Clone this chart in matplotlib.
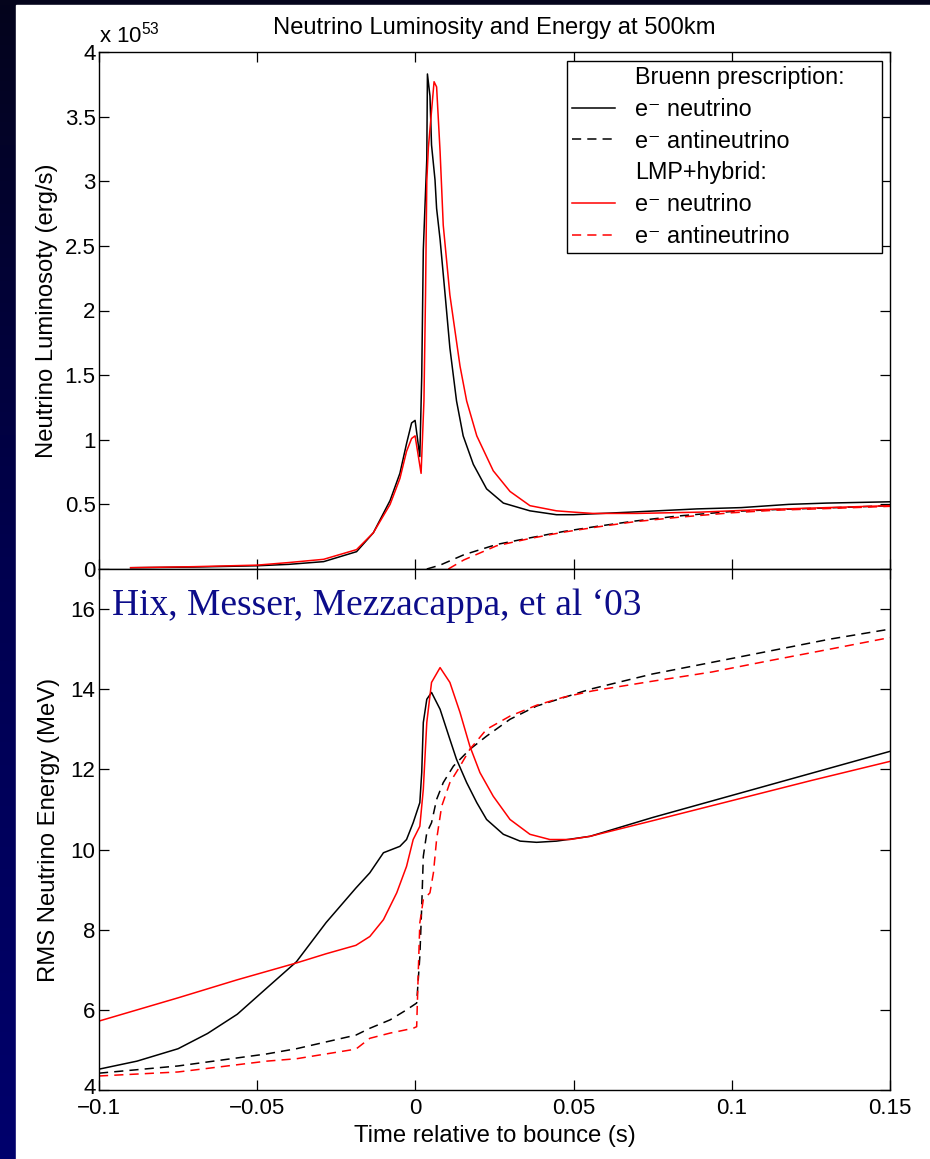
import numpy as np
import matplotlib
matplotlib.use("Agg")
import matplotlib.pyplot as plt
from matplotlib.lines import Line2D
from matplotlib.patches import Rectangle
from matplotlib.transforms import ScaledTranslation

# ---- data ----
# top panel: luminosity in units of 1e53 erg/s
lum_bn_t = [-0.09, -0.07, -0.05, -0.04, -0.029, -0.0186, -0.0133, -0.008, -0.0049, -0.0028,
            -0.0012, -0.0001, 0.0014, 0.0020, 0.0025, 0.0036, 0.0038, 0.0046, 0.0051, 0.0062,
            0.0067, 0.0078, 0.0094, 0.0109, 0.0130, 0.0151, 0.0183, 0.0225, 0.0278, 0.0362,
            0.0446, 0.05, 0.068, 0.089, 0.103, 0.118, 0.13, 0.15]
lum_bn_nue = [0.01, 0.015, 0.025, 0.036, 0.057, 0.134, 0.28, 0.53, 0.74, 0.97,
              1.13, 1.15, 0.87, 1.49, 2.47, 3.17, 3.83, 3.66, 3.28, 3.01,
              2.79, 2.55, 2.12, 1.71, 1.30, 1.03, 0.81, 0.62, 0.51, 0.45,
              0.42, 0.42, 0.44, 0.465, 0.475, 0.50, 0.51, 0.52]

lum_lmp_t = [-0.09, -0.07, -0.05, -0.04, -0.029, -0.0186, -0.0133, -0.008, -0.0049, -0.0028,
             -0.0012, -0.0001, 0.0018, 0.0027, 0.0032, 0.0036, 0.0041, 0.0059, 0.0067, 0.0078,
             0.0088, 0.0109, 0.0141, 0.0162, 0.0194, 0.0246, 0.0299, 0.0362, 0.0446, 0.05,
             0.056, 0.07, 0.09, 0.11, 0.13, 0.15]
lum_lmp_nue = [0.01, 0.018, 0.03, 0.05, 0.075, 0.15, 0.28, 0.50, 0.70, 0.91,
               1.01, 1.03, 0.74, 1.30, 2.12, 3.0, 3.26, 3.77, 3.73, 3.23,
               2.66, 2.12, 1.57, 1.30, 1.03, 0.76, 0.60, 0.49, 0.45, 0.44,
               0.43, 0.43, 0.44, 0.46, 0.475, 0.49]

lum_bn_anu_t = [0.0036, 0.0078, 0.0153, 0.0257, 0.036, 0.0468, 0.0574, 0.069, 0.083, 0.1,
                0.114, 0.133, 0.15]
lum_bn_anu = [0.0, 0.03, 0.11, 0.19, 0.24, 0.29, 0.33, 0.37, 0.41, 0.445,
              0.46, 0.475, 0.49]
lum_lmp_anu_t = [0.0104, 0.0153, 0.0257, 0.036, 0.0468, 0.0574, 0.069, 0.083, 0.1, 0.114,
                 0.133, 0.15]
lum_lmp_anu = [0.0, 0.07, 0.18, 0.235, 0.285, 0.325, 0.365, 0.40, 0.435, 0.455,
               0.47, 0.485]

# bottom panel: rms energy in MeV
e_bn_t = [-0.1, -0.088, -0.075, -0.0657, -0.0563, -0.0469, -0.0376, -0.0282, -0.0188, -0.0144,
          -0.0101, -0.0049, -0.0028, -0.0007, 0.0014, 0.002, 0.0025, 0.0036, 0.0051, 0.0078,
          0.0109, 0.013, 0.0162, 0.0194, 0.0225, 0.0278, 0.0331, 0.0383, 0.0446, 0.0552,
          0.075, 0.1, 0.125, 0.15]
e_bn_nue = [4.52, 4.72, 5.03, 5.41, 5.89, 6.55, 7.2, 8.18, 9.04, 9.42,
            9.92, 10.08, 10.25, 10.67, 11.17, 11.92, 13.17, 13.75, 13.92, 13.5,
            12.75, 12.25, 11.67, 11.17, 10.75, 10.38, 10.21, 10.18, 10.21, 10.33,
            10.8, 11.35, 11.9, 12.45]

e_lmp_t = [-0.1, -0.075, -0.0563, -0.0376, -0.0282, -0.0188, -0.0144, -0.0101, -0.0059, -0.0028,
           -0.0007, 0.0014, 0.0025, 0.0036, 0.0051, 0.0078, 0.0109, 0.0141, 0.0172, 0.0204,
           0.0246, 0.0299, 0.0362, 0.0425, 0.0488, 0.0552, 0.075, 0.1, 0.125, 0.15]
e_lmp_nue = [5.72, 6.3, 6.75, 7.17, 7.4, 7.61, 7.83, 8.25, 8.92, 9.58,
             10.25, 10.58, 11.5, 13.17, 14.17, 14.54, 14.17, 13.42, 12.58, 11.92,
             11.33, 10.75, 10.38, 10.25, 10.25, 10.33, 10.72, 11.22, 11.72, 12.2]

e_bn_anu_t = [-0.1, -0.075, -0.047, -0.0376, -0.0188, -0.0144, -0.008, -0.0028, 0.0004, 0.0014,
              0.002, 0.0025, 0.0036, 0.0051, 0.0067, 0.0088, 0.012, 0.0172, 0.0225, 0.0299,
              0.0383, 0.0468, 0.0552, 0.0749, 0.0937, 0.1124, 0.131, 0.15]
e_bn_anu = [4.42, 4.6, 4.9, 5.03, 5.37, 5.54, 5.75, 6.0, 6.17, 7.33,
            8.58, 9.83, 10.42, 10.67, 11.25, 11.67, 12.08, 12.5, 12.83, 13.25,
            13.58, 13.79, 14.0, 14.38, 14.67, 14.96, 15.25, 15.5]

e_lmp_anu_t = [-0.1, -0.075, -0.047, -0.0376, -0.0188, -0.0144, -0.008, -0.0007, 0.0004, 0.0009,
               0.0014, 0.0025, 0.0046, 0.0057, 0.0067, 0.0083, 0.0109, 0.0141, 0.0172, 0.0225,
               0.0299, 0.0383, 0.0468, 0.0561, 0.0749, 0.0937, 0.1124, 0.131, 0.15]
e_lmp_anu = [4.35, 4.45, 4.72, 4.78, 5.02, 5.29, 5.42, 5.54, 5.58, 6.92,
             8.17, 8.75, 8.92, 9.42, 10.25, 11.08, 11.67, 12.08, 12.5, 13.0,
             13.33, 13.6, 13.8, 13.96, 14.2, 14.43, 14.72, 15.0, 15.29]

x_ticks = [-0.1, -0.05, 0, 0.05, 0.1, 0.15]
x_tick_labels = ['\u22120.1', '\u22120.05', '0', '0.05', '0.1', '0.15']
lum_ticks = [0, 0.5, 1, 1.5, 2, 2.5, 3, 3.5, 4]
lum_tick_labels = ['0', '0.5', '1', '1.5', '2', '2.5', '3', '3.5', '4']
e_ticks = [4, 6, 8, 10, 12, 14, 16]
e_tick_labels = ['4', '6', '8', '10', '12', '14', '16']

legend_labels = ['Bruenn prescription:', 'e\u207b neutrino', 'e\u207b antineutrino',
                 'LMP+hybrid:', 'e\u207b neutrino', 'e\u207b antineutrino']

W, H = 930, 1159
FS_TICK = 16
FS_TEXT = 16.8
FS_LABEL = 17.2
LW = 1.1
DASH = (6, 4)


def style_axes(ax):
    """matlab-like box with inward ticks on all sides"""
    for s in ax.spines.values():
        s.set_linewidth(1.0)
    ax.tick_params(direction='in', top=True, right=True, length=7, width=0.9,
                   labelsize=FS_TICK)
    ax.tick_params(axis='x', pad=6)
    ax.tick_params(axis='y', pad=2.5)
    ax.set_xlim(-0.1, 0.15)
    ax.set_xticks(x_ticks)


def draw_background(fig):
    # dark navy slide behind a white plot area
    bg = fig.add_axes([0, 0, 1, 1], zorder=-10)
    grad = np.linspace(0, 1, 256).reshape(-1, 1)
    cmap = matplotlib.colors.LinearSegmentedColormap.from_list(
        'slide', ['#04041c', '#000050', '#00006c'])
    bg.imshow(grad, aspect='auto', cmap=cmap, extent=[0, 1, 0, 1], origin='upper')
    bg.add_patch(Rectangle((16 / W, 0), 1 - 16 / W, 1 - 5 / H, color='white'))
    bg.set_xlim(0, 1)
    bg.set_ylim(0, 1)
    bg.axis('off')


def plot_figure():
    plt.rcParams['font.family'] = ['Liberation Sans', 'DejaVu Sans']
    plt.rcParams['mathtext.fontset'] = 'custom'
    plt.rcParams['mathtext.rm'] = 'Liberation Sans'

    fig = plt.figure(figsize=(W / 100, H / 100), dpi=100)
    draw_background(fig)

    left = 99 / W
    width = (890 - 99) / W
    ax1 = fig.add_axes([left, 1 - 569 / H, width, (569 - 52) / H])
    ax2 = fig.add_axes([left, 1 - 1090 / H, width, (1090 - 569) / H])

    # luminosity
    ax1.plot(lum_bn_t, lum_bn_nue, color='black', lw=LW)
    ax1.plot(lum_bn_anu_t, lum_bn_anu, color='black', lw=LW, ls='--', dashes=DASH)
    ax1.plot(lum_lmp_t, lum_lmp_nue, color='red', lw=LW)
    ax1.plot(lum_lmp_anu_t, lum_lmp_anu, color='red', lw=LW, ls='--', dashes=DASH)
    style_axes(ax1)
    ax1.set_xticklabels([])
    ax1.set_ylim(0, 4)
    ax1.set_yticks(lum_ticks)
    ax1.set_yticklabels(lum_tick_labels)
    ax1.set_ylabel('Neutrino Luminosoty (erg/s)', fontsize=FS_LABEL)
    ax1.yaxis.set_label_coords(-0.052, 0.5)
    ax1.set_title('Neutrino Luminosity and Energy at 500km', fontsize=17.1, pad=13)
    ax1.text(0.0, 1 + 9 / 517, r'x 10$^{53}$', transform=ax1.transAxes,
             fontsize=FS_TICK, ha='left', va='baseline')

    handles = [Line2D([], [], color='none'),
               Line2D([], [], color='black', lw=LW),
               Line2D([], [], color='black', lw=LW, ls='--', dashes=DASH),
               Line2D([], [], color='none'),
               Line2D([], [], color='red', lw=LW),
               Line2D([], [], color='red', lw=LW, ls='--', dashes=DASH)]
    leg = ax1.legend(handles, legend_labels, loc='upper left', fontsize=FS_TEXT,
                     bbox_to_anchor=((567 - 99) / 791, 1 - 9 / 517, (882 - 567) / 791, 0),
                     mode='expand', borderaxespad=0, fancybox=False, framealpha=1,
                     edgecolor='black', handlelength=1.85, handletextpad=0.85,
                     labelspacing=0.375, borderpad=0.22)
    leg.get_frame().set_linewidth(1.0)

    # rms energy
    ax2.plot(e_bn_t, e_bn_nue, color='black', lw=LW)
    ax2.plot(e_bn_anu_t, e_bn_anu, color='black', lw=LW, ls='--', dashes=DASH)
    ax2.plot(e_lmp_t, e_lmp_nue, color='red', lw=LW)
    ax2.plot(e_lmp_anu_t, e_lmp_anu, color='red', lw=LW, ls='--', dashes=DASH)
    style_axes(ax2)
    ax2.set_xticklabels(x_tick_labels)
    ax2.set_ylim(4, 17)
    ax2.set_yticks(e_ticks)
    ax2.set_yticklabels(e_tick_labels)
    ax2.set_ylabel('RMS Neutrino Energy (MeV)', fontsize=FS_LABEL)
    ax2.yaxis.set_label_coords(-0.049, 0.5)
    ax2.set_xlabel('Time relative to bounce (s)', fontsize=FS_LABEL, labelpad=4)

    # lift the bottom "4" a little so it clears the -0.1 below it
    low = ax2.get_yticklabels()[0]
    low.set_transform(low.get_transform() + ScaledTranslation(0, 4 / 100, fig.dpi_scale_trans))

    # citation pasted on the slide
    fig.text(112 / W, 1 - 615 / H, 'Hix, Messer, Mezzacappa, et al \u201803',
             fontsize=27, family='Liberation Serif', color='#0c0c8a', va='baseline')

    fig.savefig('out.png', dpi=100)
    plt.close(fig)


if __name__ == "__main__":
    plot_figure()
